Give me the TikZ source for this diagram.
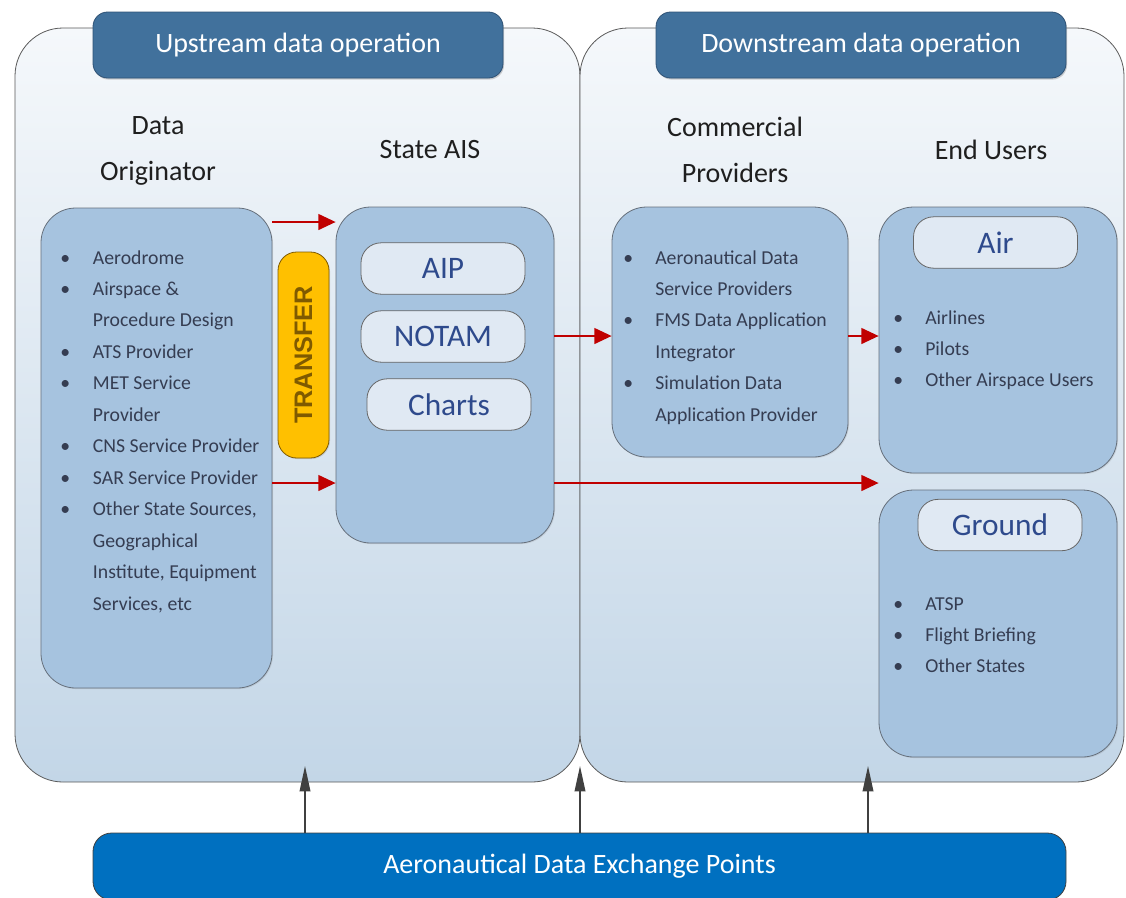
\documentclass[tikz,border=0pt]{standalone}
\usepackage{fontspec}
\setmainfont{Carlito}
\newfontfamily\arialfont{Liberation Sans}
\usetikzlibrary{shadows,arrows.meta}

\definecolor{outertop}{HTML}{F5F8FB}
\definecolor{outerbot}{HTML}{C3D6E7}
\definecolor{headblue}{HTML}{41719C}
\definecolor{headline}{HTML}{2F5275}
\definecolor{boxblue}{HTML}{A6C3DF}
\definecolor{boxline}{HTML}{66707C}
\definecolor{pillfill}{HTML}{E0E9F3}
\definecolor{pilltext}{HTML}{2E4A8C}
\definecolor{listgray}{HTML}{353D52}
\definecolor{redline}{HTML}{C00000}
\definecolor{arrowgray}{HTML}{404040}
\definecolor{barblue}{HTML}{0070C0}
\definecolor{transfery}{HTML}{FFC000}
\definecolor{transtext}{HTML}{7F5A00}

\newcommand{\bl}{\textbullet}

\tikzset{
	outerbox/.style={draw=black!65, line width=0.6pt, rounded corners=36pt,
		top color=outertop, bottom color=outerbot, inner sep=0pt},
	headbox/.style={draw=headline, line width=0.6pt, fill=headblue, rounded corners=11pt,
		inner sep=0pt, text=white, font=\fontsize{21}{25}\selectfont,
		minimum width=307.5pt, minimum height=49.5pt,
		drop shadow={shadow xshift=0.8pt, shadow yshift=-1.2pt, opacity=0.35}},
	heading/.style={align=center, text=black!88, font=\fontsize{21}{34.5}\selectfont},
	innerbox/.style={draw=boxline, line width=0.6pt, fill=boxblue, rounded corners=26pt,
		inner sep=0pt, drop shadow={shadow xshift=0.8pt, shadow yshift=-0.8pt, opacity=0.2}},
	pill/.style={draw=black!60, line width=0.6pt, fill=pillfill, rounded corners=15pt,
		inner sep=0pt, text=pilltext, font=\fontsize{23.5}{28}\selectfont,
		minimum width=123pt, minimum height=38.5pt},
	listtext/.style={anchor=base west, inner sep=0pt, text=listgray,
		font=\fontsize{14.8}{23.6}\selectfont},
	redarrow/.style={draw=redline, line width=1.1pt, -{Triangle[length=13pt,width=12pt]}},
	grayarrow/.style={draw=arrowgray, line width=1.1pt, -{Triangle[length=19pt,width=8pt]}},
}

\begin{document}
\begin{tikzpicture}[x=0.75pt,y=-0.75pt]
	\clip (0,0) rectangle (1126,897);
	% frames of the two operations
	\node[outerbox, minimum width=423.75pt, minimum height=565.5pt] (up) at (297.5,405) {};
	\node[outerbox, minimum width=408pt, minimum height=565.5pt] (down) at (852,405) {};
	\node[headbox] (uphead) at (298,45) {Upstream data operation};
	\node[headbox] (downhead) at (861,45) {Downstream data operation};
	
	\node[heading] (horig) at (158,151) {Data\\Originator};
	\node[heading] (hais) at (430,150) {State AIS};
	\node[heading] (hcomm) at (735,150) {Commercial\\Providers};
	\node[heading] (hend) at (991,150) {End Users};
	
	% boxes
	\node[innerbox, minimum width=173.25pt, minimum height=360pt] (orig) at (156.5,448) {};
	\node[innerbox, minimum width=163.5pt, minimum height=252pt] (ais) at (445,375) {};
	\node[innerbox, minimum width=177pt, minimum height=187.5pt] (comm) at (730,332) {};
	\node[innerbox, minimum width=178.5pt, minimum height=199.5pt] (air) at (998,340) {};
	\node[innerbox, minimum width=178.5pt, minimum height=200.25pt] (ground) at (998,623.5) {};
	\node[draw=transtext, line width=0.6pt, fill=transfery, rounded corners=14pt, inner sep=0pt,
	minimum width=38.25pt, minimum height=154.5pt,
	drop shadow={shadow xshift=0.8pt, shadow yshift=-0.8pt, opacity=0.25}] (transfer) at (303.5,355) {};
	\node[rotate=90, text=transtext, font=\arialfont\bfseries\fontsize{19}{22}\selectfont]
	(ttransfer) at (transfer.center) {TRANSFER};
	
	\node[pill] (aip) at (443,268.5) {AIP};
	\node[pill] (notam) at (443,336.5) {NOTAM};
	\node[pill] (charts) at (449,404.5) {Charts};
	\node[pill] (pair) at (995.5,242.5) {Air};
	\node[pill] (pground) at (1000,525) {Ground};
	
	% lists
	\node[listtext] (lorig) at (60,264) {\begin{tabular}[t]{@{}p{24.5pt}@{}l@{}}
		\bl & Aerodrome\\
		\bl & Airspace \&\\
		& Procedure Design\\
		\bl & ATS Provider\\
		\bl & MET Service\\
		& Provider\\
		\bl & CNS Service Provider\\
		\bl & SAR Service Provider\\
		\bl & Other State Sources,\\
		& Geographical\\
		& Institute, Equipment\\
		& Services, etc
	\end{tabular}};
	\node[listtext] (lcomm) at (623,264) {\begin{tabular}[t]{@{}p{24pt}@{}l@{}}
		\bl & Aeronautical Data\\
		& Service Providers\\
		\bl & FMS Data Application\\
		& Integrator\\
		\bl & Simulation Data\\
		& Application Provider
	\end{tabular}};
	\node[listtext] (lair) at (893,324) {\begin{tabular}[t]{@{}p{24pt}@{}l@{}}
		\bl & Airlines\\
		\bl & Pilots\\
		\bl & Other Airspace Users
	\end{tabular}};
	\node[listtext] (lground) at (893,610) {\begin{tabular}[t]{@{}p{24pt}@{}l@{}}
		\bl & ATSP\\
		\bl & Flight Briefing\\
		\bl & Other States
	\end{tabular}};
	
	% exchange points
	\node[draw=black!75, line width=0.6pt, fill=barblue, rounded corners=14pt, inner sep=0pt,
	text=white, font=\fontsize{21}{25}\selectfont,
	minimum width=729.75pt, minimum height=50.25pt] (bar) at (579.5,866.5) {Aeronautical Data Exchange Points};
	
	% flows
	\coordinate (ytop) at (0,222);
	\coordinate (ymid) at (0,336);
	\coordinate (ylow) at (0,483);
	\draw[redarrow] (orig.east |- ytop) -- (ais.west |- ytop);
	\draw[redarrow] (orig.east |- ylow) -- (ais.west |- ylow);
	\draw[redarrow] (ais.east |- ymid) -- (comm.west |- ymid);
	\draw[redarrow] (comm.east |- ymid) -- (air.west |- ymid);
	\draw[redarrow] (ais.east |- ylow) -- (air.west |- ylow);
	
	\coordinate (in1) at (305,766);
	\coordinate (in2) at (580,766);
	\coordinate (in3) at (868,766);
	\draw[grayarrow] (bar.north -| in1) -- (in1);
	\draw[grayarrow] (bar.north -| in2) -- (in2);
	\draw[grayarrow] (bar.north -| in3) -- (in3);
\end{tikzpicture}
\end{document}
